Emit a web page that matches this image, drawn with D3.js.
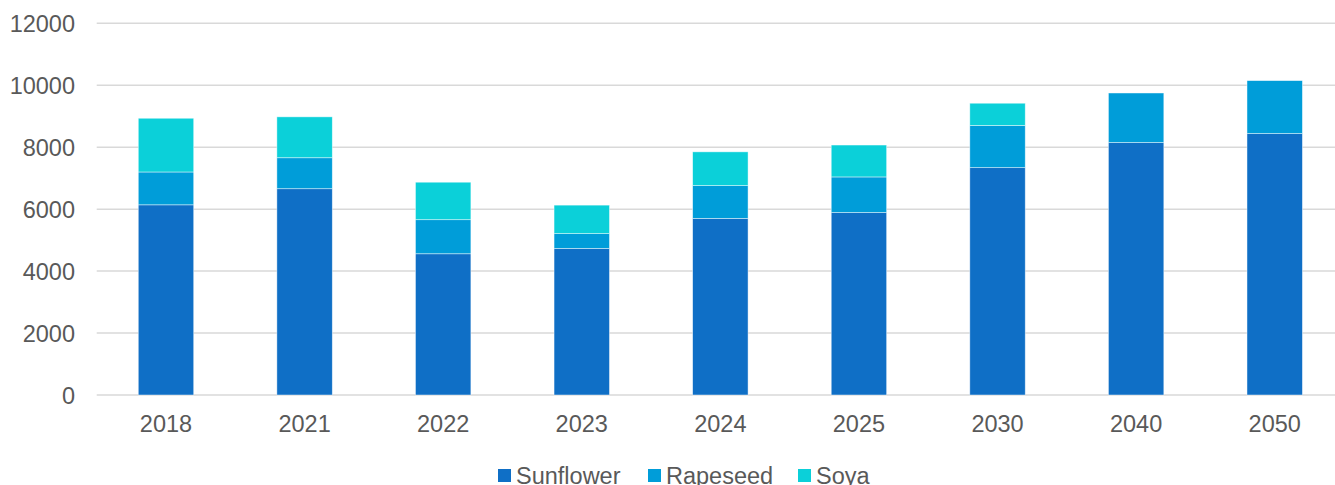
<!DOCTYPE html>
<html>
<head>
<meta charset="utf-8">
<script src="https://cdn.jsdelivr.net/npm/d3@7"></script>
<style>
  html, body { margin: 0; padding: 0; background: #fff; overflow: hidden; }
  svg { display: block; font-family: "Liberation Sans", Arial, sans-serif; }
</style>
</head>
<body>
<svg id="chart" width="1335" height="485"></svg>
<script>
const categories = ["2018", "2021", "2022", "2023", "2024", "2025", "2030", "2040", "2050"];
const seriesNames = ["Sunflower", "Rapeseed", "Soya"];
const sunflower = [6140, 6660, 4560, 4730, 5700, 5890, 7340, 8150, 8440];
const rapeseed  = [1060, 1000, 1100, 480, 1060, 1150, 1360, 1600, 1710];
const soya      = [1735, 1320, 1210, 920, 1090, 1030, 720, 0, 0];
const colors = ["#0F6FC6", "#009DD9", "#0BD0D9"];
const yTicks = [0, 2000, 4000, 6000, 8000, 10000, 12000];

(function () {
const svg = d3.select("#chart");
const plotLeft = 96.7, plotRight = 1344, plotTop = 23.3, plotBottom = 395;
const fontSize = "23.5px";

const rows = categories.map((c, i) => ({
  cat: c, Sunflower: sunflower[i], Rapeseed: rapeseed[i], Soya: soya[i]
}));
const stack = d3.stack().keys(seriesNames)(rows);

const x = d3.scaleBand().domain(categories).range([plotLeft, plotRight])
  .paddingInner(0.6).paddingOuter(0.3);
const y = d3.scaleLinear().domain([0, 12000]).range([plotBottom, plotTop]);

// gridlines
svg.append("g").selectAll("line").data(yTicks).join("line")
  .attr("x1", plotLeft).attr("x2", 1335)
  .attr("y1", d => y(d)).attr("y2", d => y(d))
  .attr("stroke", "#D9D9D9").attr("stroke-width", 1.5);

// y labels
const yAxis = d3.axisLeft(y).tickValues(yTicks).tickFormat(d3.format("d"))
  .tickSize(0).tickPadding(0);
const yg = svg.append("g").attr("transform", "translate(75,0)").call(yAxis);
yg.select(".domain").remove();
yg.selectAll("text").attr("fill", "#595959").style("font-size", fontSize)
  .attr("dy", "0.35em");

// bars
svg.append("g").selectAll("g").data(stack).join("g")
  .attr("fill", (d, i) => colors[i])
  .selectAll("rect").data(d => d.filter(s => s[1] - s[0] > 0)).join("rect")
  .attr("x", d => x(d.data.cat))
  .attr("width", x.bandwidth())
  .attr("y", d => y(d[1]))
  .attr("height", d => y(d[0]) - y(d[1]))
  .attr("stroke", "#ffffff").attr("stroke-width", 0.75).attr("stroke-opacity", 0.6);

// x labels
const xAxis = d3.axisBottom(x).tickSize(0).tickPadding(0);
const xg = svg.append("g").attr("transform", `translate(0,${plotBottom})`).call(xAxis);
xg.select(".domain").remove();
xg.selectAll("text").attr("fill", "#595959").style("font-size", fontSize)
  .attr("y", 36.5).attr("dy", 0);

// legend
const legendX = [498, 648, 798];
const lg = svg.append("g").selectAll("g").data(seriesNames).join("g")
  .attr("transform", (d, i) => `translate(${legendX[i]},0)`);
lg.append("rect").attr("x", 0).attr("y", 469).attr("width", 13).attr("height", 13)
  .attr("fill", (d, i) => colors[i]);
lg.append("text").attr("x", 18).attr("y", 483.5)
  .attr("fill", "#595959").style("font-size", fontSize).text(d => d);
})();
</script>
</body>
</html>
